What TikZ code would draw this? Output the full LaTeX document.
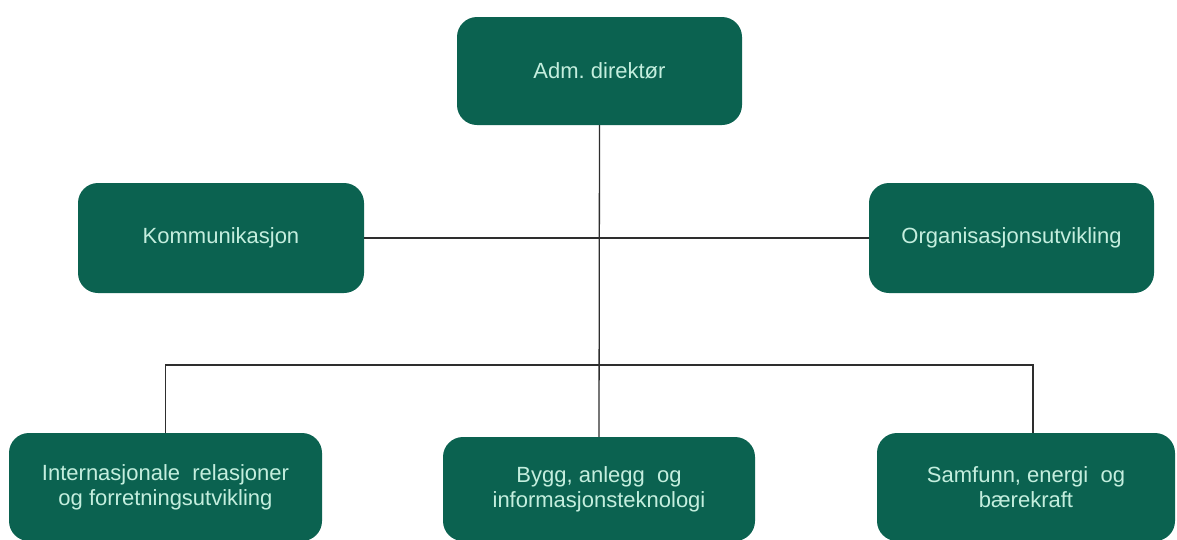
\documentclass[tikz,border=0pt]{standalone}
\usepackage{fontspec}
\setmainfont{Liberation Sans}
\frenchspacing
\definecolor{boxgreen}{HTML}{0B6250}
\definecolor{boxtext}{HTML}{C4EEDE}
\definecolor{linegray}{HTML}{2E2E2E}
\begin{document}
\begin{tikzpicture}[x=1pt,y=-1pt,
  orgbox/.style={fill=boxgreen, draw=none, rounded corners=20pt, text=boxtext,
    font=\fontsize{22}{25}\selectfont, align=center, inner sep=0pt},
  conn/.style={draw=linegray, line width=1.3pt}]
\fill[white] (0,0) rectangle (1177,539);
\useasboundingbox (0,0) rectangle (1177,539);

\node[orgbox, minimum width=285pt, minimum height=108pt] (dir) at (599.5,71) {Adm. direktør};
\node[orgbox, minimum width=286pt, minimum height=110pt] (kom) at (221,238) {Kommunikasjon};
\node[orgbox, minimum width=285pt, minimum height=110pt] (org) at (1011.5,238) {Organisasjonsutvikling};
\node[orgbox, minimum width=313pt, minimum height=108pt] (int) at (165.5,487) {Internasjonale~ relasjoner\\og forretningsutvikling};
\node[orgbox, minimum width=312pt, minimum height=104pt] (bygg) at (599,489) {Bygg, anlegg~ og\\informasjonsteknologi};
\node[orgbox, minimum width=298pt, minimum height=108pt] (sam) at (1026,487) {Samfunn, energi~ og\\bærekraft};

\coordinate (bus) at (600,365);
\draw[conn] (dir.south) -- (bygg.north);
\draw[conn] (kom.east) -- (org.west);
\draw[conn] (int.north) |- (bus) -| ([xshift=7pt]sam.north);
\end{tikzpicture}
\end{document}
